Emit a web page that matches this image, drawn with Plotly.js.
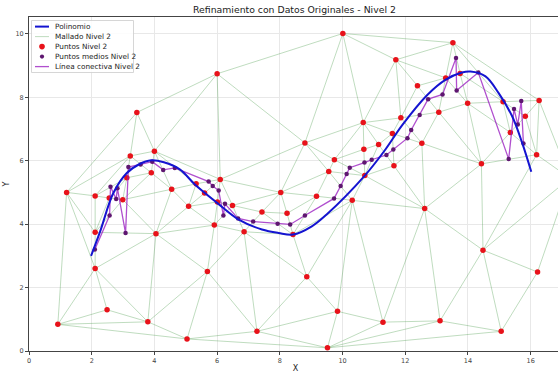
<!DOCTYPE html>
<html>
<head>
<meta charset="utf-8">
<script src="https://cdn.plot.ly/plotly-3.0.1.min.js"></script>
<style>html,body{margin:0;padding:0;overflow:hidden;background:#fff}</style>
</head>
<body>
<div id="chart" style="width:562px;height:375px"></div>
<script>
// Puntos Nivel 2 (red points, last one lies just beyond the right edge)
const ptsX = [0.92,1.20,2.11,2.56,2.99,2.11,2.11,2.49,3.79,5.04,4.05,3.12,3.23,4.00,3.90,3.44,4.55,5.09,5.33,5.60,6.10,6.01,6.49,5.91,6.86,5.69,7.27,6.00,7.43,8.03,8.23,8.42,8.80,9.17,8.86,9.84,9.52,10.31,9.56,9.74,10.01,10.66,10.68,11.15,10.71,11.59,11.64,11.86,11.70,12.39,12.53,12.62,11.29,13.11,13.07,13.29,13.52,13.75,13.99,14.43,14.48,15.06,15.12,15.35,15.83,16.27,16.19,16.22,17.25];
const ptsY = [0.84,5.00,4.89,4.82,4.77,3.74,2.60,1.30,0.92,0.38,3.70,5.46,6.15,6.30,5.62,7.52,5.10,4.56,5.27,4.98,5.41,4.70,4.59,3.97,3.76,2.51,0.62,8.74,4.38,5.00,4.34,3.67,6.56,4.88,2.34,1.25,0.10,4.75,5.66,6.03,10.01,7.20,6.36,6.51,5.53,6.86,5.84,7.35,9.18,8.36,6.55,4.49,0.91,0.95,7.53,8.61,9.72,8.75,7.81,5.90,3.18,0.62,7.86,6.89,7.40,7.90,6.19,2.49,5.45];

// Puntos medios Nivel 2 (purple points, joined in this order)
const midX = [2.10,2.57,2.60,2.78,2.82,3.08,3.17,3.56,3.93,4.28,4.65,5.73,5.86,6.05,6.20,6.25,6.67,7.15,7.93,8.33,8.80,9.73,9.94,10.13,10.23,10.70,10.93,11.40,11.62,12.07,12.19,12.46,12.73,13.19,13.62,13.64,14.33,15.30,15.47,15.59,15.70,15.77];
const midY = [3.20,4.27,5.18,4.79,5.13,3.72,5.80,5.88,5.97,5.71,5.77,5.34,5.20,5.06,4.27,4.64,4.18,4.08,4.01,3.99,4.27,4.81,5.20,5.58,5.78,5.94,6.03,6.18,6.35,6.71,6.97,7.44,7.94,8.09,9.24,8.21,8.78,6.05,7.63,7.14,7.88,6.54];

// Polinomio (blue curve, read along its path)
const polyX = [1.98,2.27,2.69,3.12,3.50,3.90,4.30,4.82,5.30,6.00,6.69,7.43,7.96,8.42,9.02,9.51,10.71,11.32,11.91,12.71,13.28,13.81,14.08,14.56,14.98,15.41,15.73,16.02];
const polyY = [3.00,3.77,4.98,5.61,5.88,6.01,5.95,5.72,5.24,4.67,4.14,3.83,3.72,3.67,3.93,4.32,5.53,6.29,7.13,8.08,8.55,8.78,8.81,8.66,8.13,7.40,6.56,5.65];

const titleText = 'Refinamiento con Datos Originales - Nivel 2';
const names = ['Polinomio','Mallado Nivel 2','Puntos Nivel 2','Puntos medios Nivel 2','Línea conectiva Nivel 2'];

const C = {poly: '#1414d0', mesh: 'rgba(60,150,60,0.33)', pts: '#e8121a', mid: '#5e1670', link: 'rgba(150,20,190,0.75)'};

// Delaunay triangulation of the red points (Bowyer-Watson) for the mesh
function delaunay(xs, ys) {
  const n = xs.length;
  const P = xs.map((x, i) => [x, ys[i]]);
  let minX = Math.min(...xs), maxX = Math.max(...xs), minY = Math.min(...ys), maxY = Math.max(...ys);
  const d = Math.max(maxX - minX, maxY - minY) * 20, cx = (minX + maxX) / 2, cy = (minY + maxY) / 2;
  P.push([cx - d, cy - d], [cx + d, cy - d], [cx, cy + d]);
  function circ(a, b, c) {
    const [ax, ay] = P[a], [bx, by] = P[b], [qx, qy] = P[c];
    const D = 2 * (ax * (by - qy) + bx * (qy - ay) + qx * (ay - by));
    const ux = ((ax*ax+ay*ay)*(by-qy)+(bx*bx+by*by)*(qy-ay)+(qx*qx+qy*qy)*(ay-by))/D;
    const uy = ((ax*ax+ay*ay)*(qx-bx)+(bx*bx+by*by)*(ax-qx)+(qx*qx+qy*qy)*(bx-ax))/D;
    return [ux, uy, (ax-ux)*(ax-ux)+(ay-uy)*(ay-uy)];
  }
  let tris = [[n, n+1, n+2]].map(t => ({v: t, c: circ(...t)}));
  for (let i = 0; i < n; i++) {
    const [px, py] = P[i];
    const bad = [], good = [];
    tris.forEach(t => {
      const dx = px - t.c[0], dy = py - t.c[1];
      (dx*dx + dy*dy < t.c[2] ? bad : good).push(t);
    });
    const edges = {};
    bad.forEach(t => {
      for (let k = 0; k < 3; k++) {
        const a = t.v[k], b = t.v[(k+1)%3];
        const key = a < b ? a + '_' + b : b + '_' + a;
        edges[key] = edges[key] ? null : [a, b];
      }
    });
    tris = good;
    Object.values(edges).forEach(e => { if (e) tris.push({v: [e[0], e[1], i], c: circ(e[0], e[1], i)}); });
  }
  tris = tris.filter(t => t.v.every(v => v < n));
  const seen = {}, ex = [], ey = [];
  tris.forEach(t => {
    for (let k = 0; k < 3; k++) {
      const a = t.v[k], b = t.v[(k+1)%3];
      const key = a < b ? a + '_' + b : b + '_' + a;
      if (seen[key]) continue;
      seen[key] = 1;
      ex.push(xs[a], xs[b], null); ey.push(ys[a], ys[b], null);
    }
  });
  return [ex, ey];
}
const [meshX, meshY] = delaunay(ptsX, ptsY);

const font = 'DejaVu Sans, Liberation Sans, sans-serif';
const traces = [
  {x: meshX, y: meshY, mode: 'lines', name: names[1], line: {color: C.mesh, width: 1}, hoverinfo: 'skip'},
  {x: ptsX, y: ptsY, mode: 'markers', name: names[2], marker: {color: C.pts, size: 5.5}},
  {x: midX, y: midY, mode: 'lines', name: names[4], line: {color: C.link, width: 1.3}},
  {x: midX, y: midY, mode: 'markers', name: names[3], marker: {color: C.mid, size: 4.5}},
  {x: polyX, y: polyY, mode: 'lines', name: names[0], line: {color: C.poly, width: 2, shape: 'spline', smoothing: 1}}
];

// Compact legend box (matplotlib-like), placed in paper coordinates
const W = 562, H = 375, M = {l: 29, r: 0, t: 17, b: 24};
const pw = W - M.l - M.r, ph = H - M.t - M.b;
const px = v => (v - M.l) / pw, py = v => (H - M.b - v) / ph;
const shapes = [], annotations = [];
shapes.push({type: 'rect', xref: 'paper', yref: 'paper', x0: px(31.5), x1: px(133.5), y0: py(72.5), y1: py(20.5),
             fillcolor: 'rgba(255,255,255,0.85)', line: {color: '#cccccc', width: 0.8}});
const kinds = [['line', C.poly, 2], ['line', C.mesh, 1], ['dot', C.pts, 2.8], ['dot', C.mid, 2.1], ['line', C.link, 1.3]];
names.forEach((nm, i) => {
  const yy = 26.6 + i * 10;
  const k = kinds[i];
  if (k[0] === 'line') {
    shapes.push({type: 'line', xref: 'paper', yref: 'paper', x0: px(35), x1: px(49), y0: py(yy), y1: py(yy),
                 line: {color: k[1], width: k[2]}});
  } else {
    shapes.push({type: 'circle', xref: 'paper', yref: 'paper', xsizemode: 'pixel', ysizemode: 'pixel',
                 xanchor: px(42), yanchor: py(yy), x0: -k[2], x1: k[2], y0: -k[2], y1: k[2],
                 fillcolor: k[1], line: {width: 0}});
  }
  annotations.push({xref: 'paper', yref: 'paper', x: px(52.5), y: py(yy), xanchor: 'left', yanchor: 'middle',
                    text: nm, showarrow: false, font: {family: font, size: 7.3, color: '#222'}});
});

const layout = {
  width: W, height: H,
  margin: M,
  paper_bgcolor: '#fff', plot_bgcolor: '#fff',
  font: {family: font, size: 7, color: '#333'},
  title: {text: titleText, font: {family: font, size: 9.3, color: '#222'},
          x: 0.524, xanchor: 'center', y: 0.973, yanchor: 'middle', yref: 'container'},
  showlegend: false,
  shapes: shapes, annotations: annotations,
  xaxis: {range: [0, 17], tickvals: [0,2,4,6,8,10,12,14,16], showgrid: true, gridcolor: '#e8e8e8',
          zeroline: false, showline: true, linecolor: '#444', linewidth: 1, mirror: true,
          ticks: 'outside', ticklen: 3, tickcolor: '#444', tickfont: {size: 6.5, color: '#444'},
          title: {text: 'X', font: {size: 8, color: '#222'}, standoff: 1}, automargin: false},
  yaxis: {range: [0, 10.53], tickvals: [0,2,4,6,8,10], showgrid: true, gridcolor: '#e8e8e8',
          zeroline: false, showline: true, linecolor: '#444', linewidth: 1, mirror: true,
          ticks: 'outside', ticklen: 3, tickcolor: '#444', tickfont: {size: 6.5, color: '#444'},
          title: {text: 'Y', font: {size: 8, color: '#222'}, standoff: 4}, automargin: false}
};

Plotly.newPlot('chart', traces, layout, {displayModeBar: false, staticPlot: true});
</script>
</body>
</html>
